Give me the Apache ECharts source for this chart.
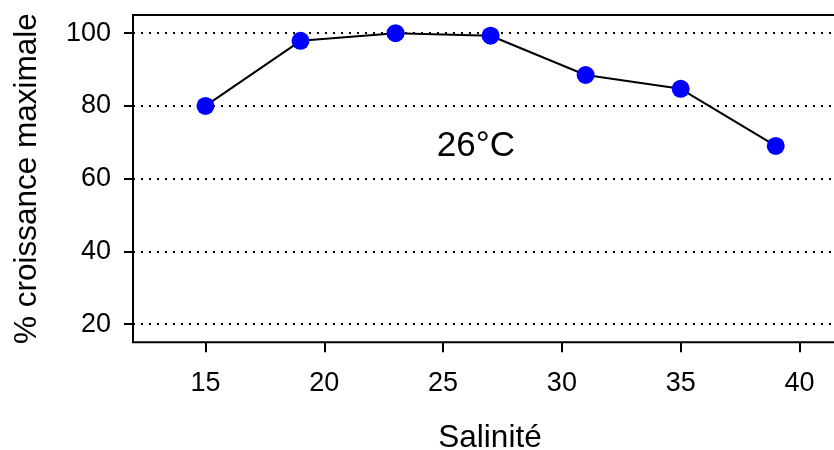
<!DOCTYPE html>
<html>
<head>
<meta charset="utf-8">
<title>Croissance et salinité</title>
<script src="https://cdn.jsdelivr.net/npm/echarts@6/dist/echarts.min.js"></script>
<style>
  html, body { margin: 0; padding: 0; background: #ffffff; }
  #chart { width: 834px; height: 450px; }
</style>
</head>
<body>
<div id="chart"></div>
<script>
// Salinity levels tested and the growth reached, as % of the maximum
const salinite = [15, 19, 23, 27, 31, 35, 39];
const croissance = [80.0, 97.9, 100.0, 99.3, 88.5, 84.7, 69.0];

// Tick positions on both axes
const xTicks = [15, 20, 25, 30, 35, 40];
const yTicks = [20, 40, 60, 80, 100];

// Temperature tag shown inside the plot, and where it sits (data units)
const annotation = '26°C';
const annotationAt = [26.38, 69.0];

const FONT = '"Liberation Sans", Arial, Helvetica, sans-serif';

const chart = echarts.init(document.getElementById('chart'), null, { renderer: 'canvas' });

chart.setOption({
  animation: false,
  backgroundColor: '#ffffff',
  textStyle: { fontFamily: FONT, color: '#000' },
  grid: {
    left: 133,
    right: -13,
    top: 15,
    bottom: 107.7,
    outerBoundsMode: 'none',
    containLabel: false,
    show: true,
    borderColor: '#000',
    borderWidth: 2,
    backgroundColor: 'transparent'
  },
  xAxis: {
    type: 'value',
    min: 11.95,
    max: 42,
    name: 'Salinité',
    nameLocation: 'middle',
    nameGap: 80,
    nameTextStyle: { fontSize: 31.5, color: '#000', fontFamily: FONT },
    axisLine: { show: false },
    axisTick: {
      show: true, length: 10, inside: false,
      customValues: xTicks,
      lineStyle: { color: '#000', width: 2 }
    },
    axisLabel: {
      customValues: xTicks,
      fontSize: 27, color: '#000', fontFamily: FONT, margin: 28
    },
    splitLine: { show: false }
  },
  yAxis: {
    type: 'value',
    min: 15,
    max: 105,
    name: '% croissance maximale',
    nameLocation: 'middle',
    nameRotate: 90,
    nameGap: 90,
    nameTextStyle: { fontSize: 31.5, color: '#000', fontFamily: FONT },
    axisLine: { show: false },
    axisTick: {
      show: true, length: 9, inside: false,
      customValues: yTicks,
      lineStyle: { color: '#000', width: 2 }
    },
    axisLabel: {
      customValues: yTicks,
      fontSize: 27, color: '#000', fontFamily: FONT, margin: 22
    },
    splitLine: { show: false }
  },
  series: [{
    type: 'line',
    data: salinite.map((s, i) => [s, croissance[i]]),
    symbol: 'circle',
    symbolSize: 18,
    showSymbol: true,
    lineStyle: { color: '#000', width: 2 },
    itemStyle: { color: '#0000ff', borderWidth: 0 },
    z: 3,
    markLine: {
      silent: true,
      symbol: ['none', 'none'],
      label: { show: false },
      lineStyle: { color: '#000', width: 2, type: [2, 6] },
      data: yTicks.map(v => ({ yAxis: v })),
      z: 1
    },
    markPoint: {
      silent: true,
      symbol: 'circle',
      symbolSize: 1,
      itemStyle: { color: 'rgba(0,0,0,0)' },
      label: {
        show: true,
        position: 'inside',
        formatter: annotation,
        fontSize: 35,
        color: '#000',
        fontFamily: FONT
      },
      data: [{ coord: annotationAt }]
    }
  }]
});
</script>
</body>
</html>
